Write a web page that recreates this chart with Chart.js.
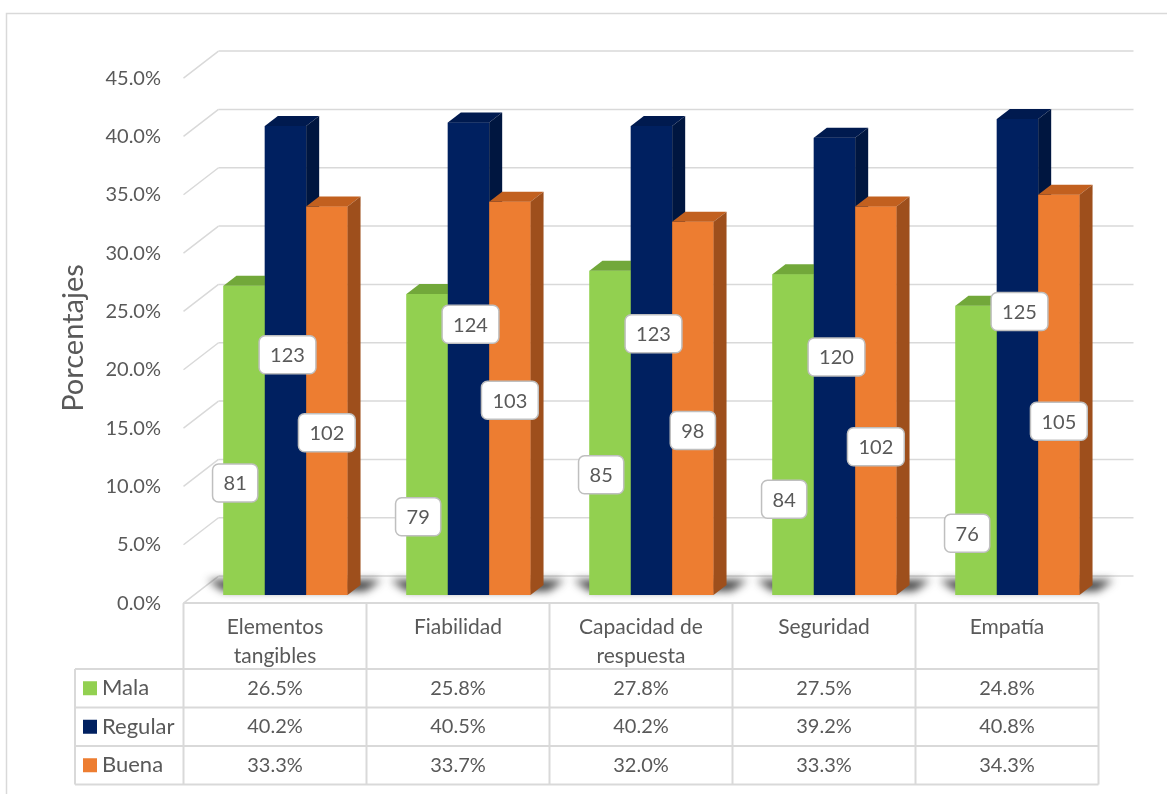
<!DOCTYPE html>
<html lang="es">
<head>
    <meta charset="UTF-8">
    <title>Dimensiones de calidad de servicio</title>
    <script src="https://cdn.jsdelivr.net/npm/chart.js"></script>
    <style>
        body { margin: 0; background: #ffffff; }
        #chart { display: block; }
    </style>
</head>
<body>
    <canvas id="chart" width="1167" height="794"></canvas>

    <script>
        // categories and series
        const categories = [['Elementos', 'tangibles'], ['Fiabilidad'], ['Capacidad de', 'respuesta'], ['Seguridad'], ['Empatía']];
        const seriesNames = ['Mala', 'Regular', 'Buena'];
        const mala = [26.5, 25.8, 27.8, 27.5, 24.8];
        const regular = [40.2, 40.5, 40.2, 39.2, 40.8];
        const buena = [33.3, 33.7, 32.0, 33.3, 34.3];
        // counts shown in the label boxes
        const malaCount = [81, 79, 85, 84, 76];
        const regularCount = [123, 124, 123, 120, 125];
        const buenaCount = [102, 103, 98, 102, 105];
        const yTicks = [0, 5, 10, 15, 20, 25, 30, 35, 40, 45];

        // height (in % units) where each count box sits
        const malaLabelAt = [9.6, 6.7, 10.3, 8.2, 5.3];
        const regularLabelAt = [20.6, 23.2, 22.4, 20.4, 24.3];
        const buenaLabelAt = [13.9, 16.7, 14.1, 12.7, 14.9];

        const colors = ['#92d050', '#002060', '#ed7d31'];
        const topColors = ['#72a83a', '#001a4f', '#c2601f'];
        const sideColors = ['#5f8f2f', '#001640', '#9e4f1c'];

        const FONT = 'Lato, "Open Sans", sans-serif';
        const TEXT = '#595959';
        const GRID = '#d9d9d9';

        // 3D depth: front plane -> back wall, bars sit between
        const DEPTH = { dx: 35, dy: -27 };
        const BAR_T = 0.3;           // bar front face, as fraction of depth
        const BAR_D = { dx: 13, dy: -10 };

        function front(x, y) { return [x - DEPTH.dx * BAR_T, y - DEPTH.dy * BAR_T]; }
        function back(x, y) { return [x + DEPTH.dx * (1 - BAR_T), y + DEPTH.dy * (1 - BAR_T)]; }

        function roundRect(ctx, x, y, w, h, r) {
            ctx.beginPath();
            ctx.moveTo(x + r, y);
            ctx.arcTo(x + w, y, x + w, y + h, r);
            ctx.arcTo(x + w, y + h, x, y + h, r);
            ctx.arcTo(x, y + h, x, y, r);
            ctx.arcTo(x, y, x + w, y, r);
            ctx.closePath();
        }

        function line(ctx, x1, y1, x2, y2) {
            ctx.beginPath();
            ctx.moveTo(x1, y1);
            ctx.lineTo(x2, y2);
            ctx.stroke();
        }

        function poly(ctx, pts, fill) {
            ctx.fillStyle = fill;
            ctx.beginPath();
            pts.forEach((p, k) => k ? ctx.lineTo(p[0], p[1]) : ctx.moveTo(p[0], p[1]));
            ctx.closePath();
            ctx.fill();
        }

        const walls = {
            id: 'walls',
            beforeDatasetsDraw(chart) {
                const ctx = chart.ctx;
                const area = chart.chartArea;
                const y = chart.scales.y;
                const x = chart.scales.x;
                ctx.save();

                // outer frame
                ctx.strokeStyle = GRID;
                ctx.lineWidth = 1.5;
                ctx.strokeRect(6.5, 13.5, 1200, 800);

                // gridlines on back wall and left wall
                ctx.lineWidth = 1.5;
                yTicks.forEach(v => {
                    const py = y.getPixelForValue(v);
                    const [bl, by] = back(area.left, py);
                    const [br] = back(area.right, py);
                    const [fl, fy] = front(area.left, py);
                    line(ctx, fl, fy, bl, by);
                    line(ctx, bl, by, br, by);
                });

                // soft shadows on the floor behind each group
                const base = y.getPixelForValue(0);
                const metas = [0, 1, 2].map(i => chart.getDatasetMeta(i));
                ctx.filter = 'blur(4px)';
                categories.forEach((c, i) => {
                    const g = metas[0].data[i];
                    const o = metas[2].data[i];
                    const l = g.x - g.width / 2;
                    const r = o.x + o.width / 2;
                    poly(ctx, [[l - 16, base - 15], [r + 34, base - 15], [r + 18, base - 4], [l, base - 4]], 'rgba(30,30,30,0.85)');
                });
                ctx.filter = 'none';

                // y tick labels on the front plane
                ctx.fillStyle = TEXT;
                ctx.font = '20px ' + FONT;
                ctx.textAlign = 'right';
                ctx.textBaseline = 'middle';
                yTicks.forEach(v => {
                    const [, fy] = front(area.left, y.getPixelForValue(v));
                    ctx.fillText(v.toFixed(1) + '%', 161, fy);
                });

                // axis title
                ctx.save();
                ctx.translate(74, 338);
                ctx.rotate(-Math.PI / 2);
                ctx.textAlign = 'center';
                ctx.font = '29px ' + FONT;
                ctx.fillText('Porcentajes', 0, 0);
                ctx.restore();

                // data table
                const [tl, tt] = front(area.left, base);
                const [tr] = front(area.right, base);
                const step = (area.right - area.left) / categories.length;
                const rowTop = 669, rowH = 38.5, legendLeft = 75;
                const rowsBottom = rowTop + rowH * 3;
                ctx.strokeStyle = GRID;
                ctx.lineWidth = 2;
                line(ctx, tl, tt, tr, tt);
                for (let r = 0; r <= 3; r++) {
                    line(ctx, legendLeft, rowTop + r * rowH, tr, rowTop + r * rowH);
                }
                line(ctx, legendLeft, rowTop, legendLeft, rowsBottom);
                for (let i = 0; i <= categories.length; i++) {
                    const cx = tl + i * step;
                    line(ctx, cx, tt, cx, rowsBottom);
                }

                ctx.fillStyle = TEXT;
                ctx.font = '21px ' + FONT;
                ctx.textAlign = 'center';
                categories.forEach((lines, i) => {
                    const cx = front(x.getPixelForValue(i), base)[0];
                    lines.forEach((t, k) => ctx.fillText(t, cx, 627 + k * 29));
                });

                const values = [mala, regular, buena];
                values.forEach((arr, r) => {
                    const cy = rowTop + r * rowH + rowH / 2;
                    ctx.font = '20px ' + FONT;
                    ctx.textAlign = 'center';
                    arr.forEach((v, i) => {
                        const cx = front(x.getPixelForValue(i), base)[0];
                        ctx.fillText(v.toFixed(1) + '%', cx, cy);
                    });
                    ctx.fillStyle = colors[r];
                    ctx.fillRect(83, cy - 7, 14, 14);
                    ctx.fillStyle = TEXT;
                    ctx.textAlign = 'left';
                    ctx.font = '22px ' + FONT;
                    ctx.fillText(seriesNames[r], 102, cy);
                });
                ctx.restore();
            },

            afterDatasetsDraw(chart) {
                const ctx = chart.ctx;
                const y = chart.scales.y;

                // bars again, left to right inside each group, with top and side faces
                ctx.save();
                [0, 1, 2].forEach(d => {
                    chart.getDatasetMeta(d).data.forEach(bar => {
                        bar.draw(ctx);
                        const l = bar.x - bar.width / 2;
                        const r = bar.x + bar.width / 2;
                        const t = bar.y;
                        const b = bar.base;
                        poly(ctx, [[l, t], [r, t], [r + BAR_D.dx, t + BAR_D.dy], [l + BAR_D.dx, t + BAR_D.dy]], topColors[d]);
                        poly(ctx, [[r, t], [r + BAR_D.dx, t + BAR_D.dy], [r + BAR_D.dx, b + BAR_D.dy], [r, b]], sideColors[d]);
                    });
                });
                ctx.restore();

                // count boxes
                const counts = [malaCount, regularCount, buenaCount];
                const levels = [malaLabelAt, regularLabelAt, buenaLabelAt];
                const shift = [-9, 2, 0];
                ctx.save();
                ctx.font = '20px ' + FONT;
                ctx.textAlign = 'center';
                ctx.textBaseline = 'middle';
                counts.forEach((arr, d) => {
                    const meta = chart.getDatasetMeta(d);
                    arr.forEach((n, i) => {
                        const cx = meta.data[i].x + shift[d];
                        const cy = y.getPixelForValue(levels[d][i]);
                        const w = ctx.measureText(String(n)).width + 22;
                        const h = 38;
                        roundRect(ctx, cx - w / 2, cy - h / 2, w, h, 6);
                        ctx.fillStyle = '#ffffff';
                        ctx.fill();
                        ctx.strokeStyle = '#bfbfbf';
                        ctx.lineWidth = 1.5;
                        ctx.stroke();
                        ctx.fillStyle = TEXT;
                        ctx.fillText(String(n), cx, cy + 1);
                    });
                });
                ctx.restore();
            }
        };

        new Chart(document.getElementById('chart'), {
            type: 'bar',
            data: {
                labels: categories,
                datasets: [
                    { label: seriesNames[0], data: mala, backgroundColor: colors[0] },
                    { label: seriesNames[1], data: regular, backgroundColor: colors[1] },
                    { label: seriesNames[2], data: buena, backgroundColor: colors[2] }
                ]
            },
            options: {
                responsive: false,
                animation: false,
                layout: { padding: { left: 194, right: 58, top: 70, bottom: 199 } },
                datasets: { bar: { borderWidth: 0, categoryPercentage: 0.678, barPercentage: 1 } },
                plugins: { legend: { display: false }, tooltip: { enabled: false } },
                scales: {
                    x: { display: false },
                    y: { display: false, min: 0, max: 45 }
                }
            },
            plugins: [walls]
        });
    </script>
</body>
</html>
